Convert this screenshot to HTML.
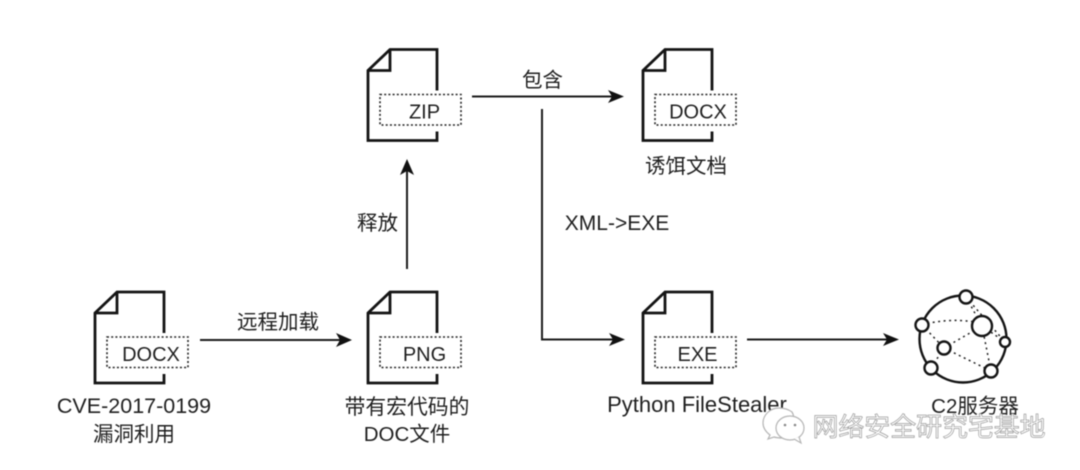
<!DOCTYPE html>
<html>
<head>
<meta charset="utf-8">
<style>
html,body{margin:0;padding:0;background:#fff;width:1080px;height:470px;overflow:hidden}
svg{display:block;filter:blur(0.4px)}
text{font-family:"Liberation Sans","Noto Sans CJK SC",sans-serif;fill:#1f1f1f;font-size:20.5px;text-anchor:middle}
.l{font-size:21.5px}
</style>
</head>
<body>
<svg width="1080" height="470" viewBox="0 0 1080 470" xmlns="http://www.w3.org/2000/svg">
<defs>
<g id="doc">
<path d="M71 41V0H24L2 21V91H71V82" fill="none" stroke="#141414" stroke-width="2.800" stroke-linejoin="miter"/>
<path d="M24 0V21H2" fill="none" stroke="#141414" stroke-width="2.800"/>
<path d="M14 45H95V75.500H14Z" fill="none" stroke="#222" stroke-width="1.600" stroke-dasharray="2 2.200"/>
</g>
</defs>

<use href="#doc" x="93" y="292"/>
<use href="#doc" x="366" y="292"/>
<use href="#doc" x="366" y="49.500"/>
<use href="#doc" x="641" y="49.500"/>
<use href="#doc" x="641" y="292"/>

<text x="151" y="361" style="font-size:20px">DOCX</text>
<text x="424.500" y="361" style="font-size:20px">PNG</text>
<text x="424.500" y="118.500" style="font-size:20px">ZIP</text>
<text x="698" y="118.500" style="font-size:20px">DOCX</text>
<text x="697.500" y="361" style="font-size:20px">EXE</text>

<g stroke="#1c1c1c" stroke-width="2" fill="none">
<path d="M200 340H342"/>
<path d="M472 96.500H613"/>
<path d="M407 269V170"/>
<path d="M542 109V339.500H613"/>
<path d="M747 339.500H889"/>
</g>
<g fill="#111">
<path d="M352 340L336 333L340 340L336 347Z"/>
<path d="M624 96.500L608 90L612 96.500L608 103Z"/>
<path d="M407 159L400 175L407 171L414 175Z"/>
<path d="M625 339.500L609 333L613 339.500L609 346Z"/>
<path d="M899 339.500L883 333L887 339.500L883 346Z"/>
</g>

<text x="278" y="329">远程加载</text>
<text x="542.500" y="87">包含</text>
<text x="377.500" y="230">释放</text>
<text x="617" y="230" style="font-size:21px">XML-&gt;EXE</text>
<text x="134" y="413" class="l">CVE-2017-0199</text>
<text x="134" y="441">漏洞利用</text>
<text x="407" y="414" style="font-size:20.800px">带有宏代码的</text>
<text x="407" y="441">DOC文件</text>
<text x="686" y="173">诱饵文档</text>
<text x="697" y="412" style="font-size:22px">Python FileStealer</text>
<text x="975" y="413">C2服务器</text>

<!-- C2 network -->
<circle cx="963" cy="339" r="43.500" fill="none" stroke="#141414" stroke-width="2.400"/>
<g fill="none" stroke="#222" stroke-width="1.500" stroke-dasharray="2 3.500">
<path d="M966 297L982 326"/>
<path d="M922 325Q950 317 982 323"/>
<path d="M922 325L944 348"/>
<path d="M944 348L982 326"/>
<path d="M944 348L991 371"/>
<path d="M931 368L944 348"/>
<path d="M982 326L991 371"/>
<path d="M982 326L1005 342"/>
<path d="M966 297L1005 342"/>
</g>
<g fill="#fff" stroke="#141414" stroke-width="2.400">
<circle cx="966" cy="297" r="6.500"/>
<circle cx="922" cy="325" r="6.500"/>
<circle cx="1005" cy="342" r="5"/>
<circle cx="991" cy="371" r="6.500"/>
<circle cx="931" cy="368" r="6.500"/>
<circle cx="982" cy="326" r="10"/>
<circle cx="944" cy="348" r="6.500"/>
</g>

<!-- watermark -->
<g fill="#fff" stroke="#b5b5b5" stroke-width="1.200">
<path d="M779 408C770 408 763 415 763 423C763 428 766 432 770 435L768 439L774 437C777 438 780 438 783 438C790 431 797 420 792 412C788 409 784 408 779 408Z"/>
<ellipse cx="790" cy="428" rx="14" ry="12"/>
<path d="M794 439L801 443L799 437"/>
</g>
<circle cx="785" cy="425" r="1.300" fill="#888"/>
<circle cx="795" cy="425" r="1.300" fill="#888"/>
<text x="929" y="436" style="font-family:'Noto Sans CJK SC',sans-serif;font-size:26px;fill:#fff;stroke:#9a9a9a;stroke-width:0.700px;letter-spacing:-0.100px">网络安全研究宅基地</text>
</svg>
</body>
</html>
